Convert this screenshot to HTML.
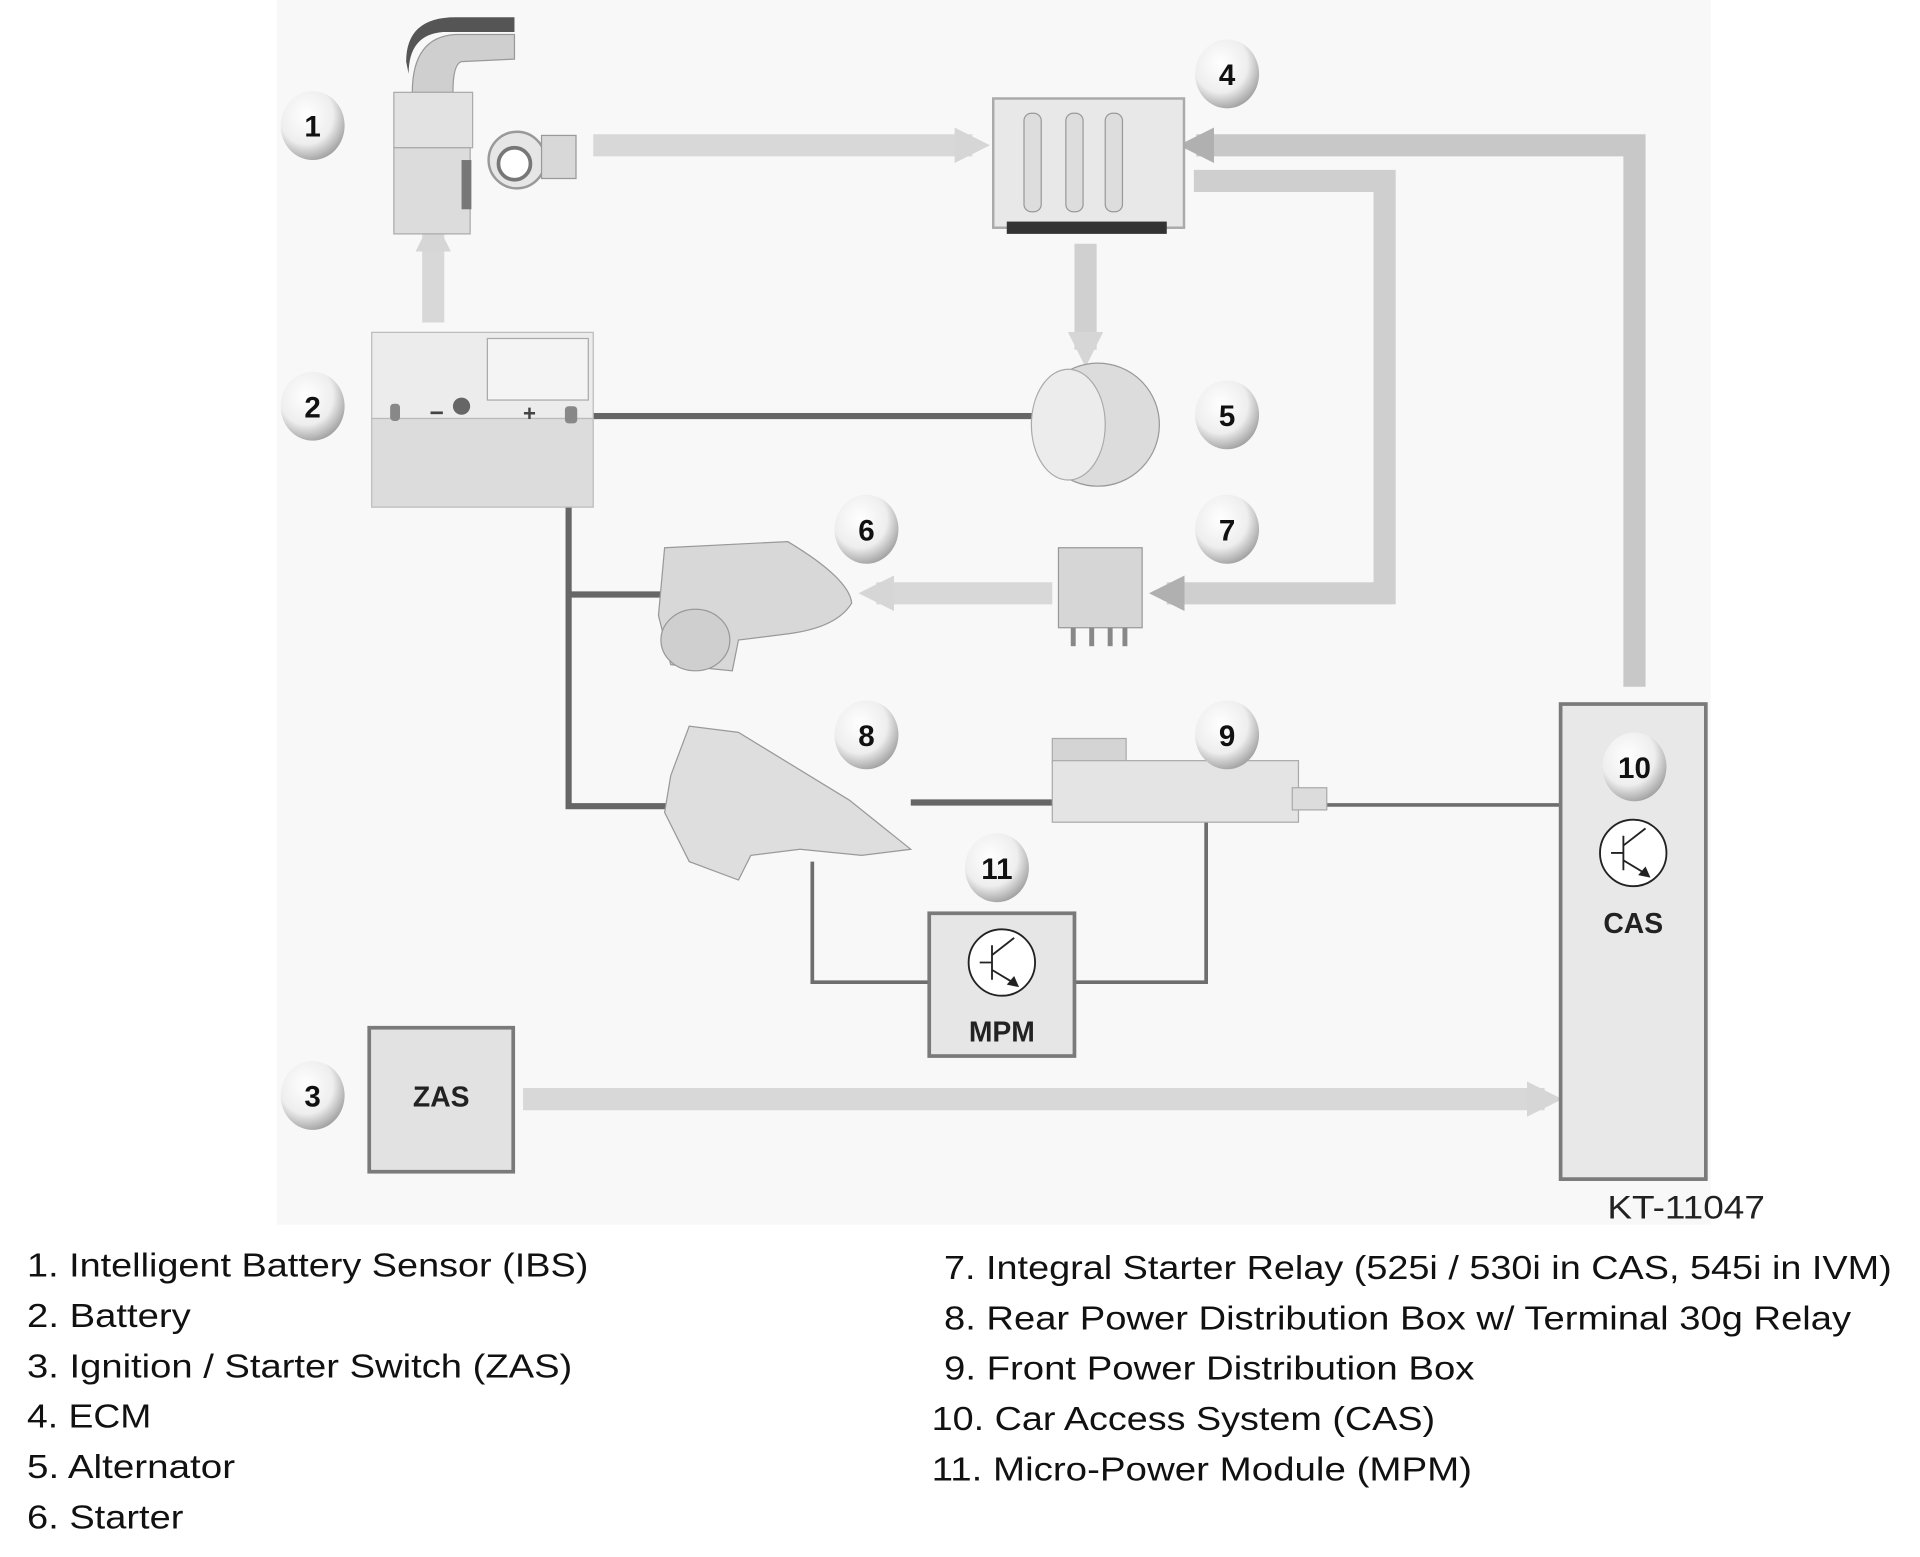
<!DOCTYPE html>
<html><head><meta charset="utf-8"><style>
html,body{margin:0;padding:0;background:#fff;}
svg{display:block;}
text{font-family:"Liberation Sans",sans-serif;}
</style></head><body>
<svg width="1920" height="1557" viewBox="0 0 1560 1265" xmlns="http://www.w3.org/2000/svg">
<defs>
<radialGradient id="bd" cx="0.4" cy="0.35" r="0.7">
<stop offset="0" stop-color="#ffffff"/><stop offset="0.6" stop-color="#eeeeee"/><stop offset="1" stop-color="#9a9a9a"/>
</radialGradient>
<marker id="ah" viewBox="0 0 10 10" refX="5" refY="5" markerWidth="1.6" markerHeight="1.6" orient="auto"><path d="M0,0 L10,5 L0,10 z" fill="#d6d6d6"/></marker>
<marker id="ahd" viewBox="0 0 10 10" refX="5" refY="5" markerWidth="1.6" markerHeight="1.6" orient="auto"><path d="M0,0 L10,5 L0,10 z" fill="#b0b0b0"/></marker>
</defs>
<rect x="225" y="0" width="1165" height="995" fill="#f8f8f8"/>

<g fill="none" stroke-width="18" stroke-linejoin="miter">
<path d="M482,118 L790,118" stroke="#d8d8d8" marker-end="url(#ah)"/>
<path d="M352,262 L352,190" stroke="#d8d8d8" marker-end="url(#ah)"/>
<path d="M882,198 L882,284" stroke="#d0d0d0" marker-end="url(#ah)"/>
<path d="M1328,558 L1328,118 L972,118" stroke="#c8c8c8" marker-end="url(#ahd)"/>
<path d="M970,147 L1125,147 L1125,482 L948,482" stroke="#cfcfcf" marker-end="url(#ahd)"/>
<path d="M855,482 L712,482" stroke="#d8d8d8" marker-end="url(#ah)"/>
<path d="M425,893 L1255,893" stroke="#d8d8d8" marker-end="url(#ah)"/>
</g>

<g fill="none" stroke="#666" stroke-width="5">
<path d="M470,338 L842,338"/>
<path d="M462,342 L462,655 L545,655"/>
<path d="M462,483 L545,483"/>
<path d="M740,652 L862,652"/>
</g>
<g fill="none" stroke="#6e6e6e" stroke-width="3">
<path d="M1075,654 L1268,654"/>
<path d="M660,700 L660,798 L755,798"/>
<path d="M873,798 L980,798 L980,668"/>
</g>

<path d="M332,60 Q332,28 360,26 L418,26 L418,14 L370,14 Q330,14 330,50 Z" fill="#555"/>
<path d="M335,75 Q335,30 370,28 L418,28 L418,48 L375,50 Q368,52 368,75 Z" fill="#cfcfcf" stroke="#999"/>
<rect x="320" y="75" width="64" height="45" fill="#e2e2e2" stroke="#aaa"/>
<rect x="320" y="120" width="62" height="70" fill="#dcdcdc" stroke="#aaa"/>
<rect x="375" y="130" width="8" height="40" fill="#777"/>
<circle cx="420" cy="130" r="23" fill="#e6e6e6" stroke="#999" stroke-width="2"/>
<circle cx="418" cy="133" r="13" fill="#fff" stroke="#777" stroke-width="3"/>
<rect x="440" y="110" width="28" height="35" fill="#d8d8d8" stroke="#999"/>

<rect x="302" y="270" width="180" height="70" fill="#ececec" stroke="#bbb"/>
<rect x="396" y="275" width="82" height="50" fill="#f4f4f4" stroke="#aaa"/>
<rect x="302" y="340" width="180" height="72" fill="#dcdcdc" stroke="#bbb"/>
<circle cx="375" cy="330" r="7" fill="#666"/>
<text x="349" y="342" font-size="20" font-weight="bold" fill="#444">−</text>
<text x="425" y="342" font-size="18" font-weight="bold" fill="#444">+</text>
<rect x="317" y="328" width="8" height="14" rx="3" fill="#888"/>
<rect x="459" y="330" width="10" height="14" rx="3" fill="#888"/>

<rect x="807" y="80" width="155" height="105" fill="#e8e8e8" stroke="#aaa" stroke-width="2"/>
<rect x="832" y="92" width="14" height="80" rx="6" fill="#ddd" stroke="#999"/>
<rect x="866" y="92" width="14" height="80" rx="6" fill="#ddd" stroke="#999"/>
<rect x="898" y="92" width="14" height="80" rx="6" fill="#ddd" stroke="#999"/>
<rect x="818" y="180" width="130" height="10" fill="#333"/>

<ellipse cx="892" cy="345" rx="50" ry="50" fill="#dcdcdc" stroke="#999"/>
<ellipse cx="868" cy="345" rx="30" ry="45" fill="#ececec" stroke="#aaa"/>

<path d="M540,445 L640,440 Q690,470 692,490 Q680,510 640,515 L600,520 L595,545 L545,540 L535,500 Z" fill="#d8d8d8" stroke="#999"/>
<ellipse cx="565" cy="520" rx="28" ry="25" fill="#cfcfcf" stroke="#999"/>

<rect x="860" y="445" width="68" height="65" fill="#d6d6d6" stroke="#999"/>
<rect x="870" y="510" width="4" height="15" fill="#888"/><rect x="885" y="510" width="4" height="15" fill="#888"/><rect x="900" y="510" width="4" height="15" fill="#888"/><rect x="912" y="510" width="4" height="15" fill="#888"/>

<path d="M545,630 L560,590 L600,595 L690,650 L740,690 L700,695 L650,690 L610,695 L600,715 L560,700 L540,660 Z" fill="#dedede" stroke="#999"/>

<rect x="855" y="600" width="60" height="20" fill="#d4d4d4" stroke="#aaa"/>
<rect x="855" y="618" width="200" height="50" fill="#e4e4e4" stroke="#aaa"/>
<rect x="1050" y="640" width="28" height="18" fill="#dcdcdc" stroke="#aaa"/>

<rect x="300" y="835" width="117" height="117" fill="#e2e2e2" stroke="#7a7a7a" stroke-width="3"/>
<text x="358.5" y="899" font-size="23" font-weight="bold" text-anchor="middle" fill="#222">ZAS</text>

<rect x="755" y="742" width="118" height="116" fill="#e6e6e6" stroke="#7a7a7a" stroke-width="3"/>
<circle cx="814" cy="782" r="27" fill="#fff" stroke="#222" stroke-width="1.5"/>
<path d="M796,782 L806,782 M806,768 L806,796 M806,776 L824,762 M806,788 L826,800" stroke="#222" stroke-width="1.5" fill="none"/>
<path d="M828,802 L818,800 L824,793 Z" fill="#222"/>
<text x="814" y="846" font-size="23" font-weight="bold" text-anchor="middle" fill="#222">MPM</text>

<rect x="1268" y="572" width="118" height="386" fill="#e8e8e8" stroke="#7a7a7a" stroke-width="3"/>
<circle cx="1327" cy="693" r="27" fill="#fff" stroke="#222" stroke-width="1.5"/>
<path d="M1309,693 L1319,693 M1319,679 L1319,707 M1319,687 L1337,673 M1319,699 L1339,711" stroke="#222" stroke-width="1.5" fill="none"/>
<path d="M1341,713 L1331,711 L1337,704 Z" fill="#222"/>
<text x="1327" y="758" font-size="23" font-weight="bold" text-anchor="middle" fill="#222">CAS</text>

<g font-size="24" font-weight="bold" text-anchor="middle" fill="#111">
<g><ellipse cx="254" cy="102" rx="26" ry="28" fill="url(#bd)"/><text x="254" y="111">1</text></g>
<g><ellipse cx="254" cy="330" rx="26" ry="28" fill="url(#bd)"/><text x="254" y="339">2</text></g>
<g><ellipse cx="254" cy="890" rx="26" ry="28" fill="url(#bd)"/><text x="254" y="899">3</text></g>
<g><ellipse cx="997" cy="60" rx="26" ry="28" fill="url(#bd)"/><text x="997" y="69">4</text></g>
<g><ellipse cx="997" cy="337" rx="26" ry="28" fill="url(#bd)"/><text x="997" y="346">5</text></g>
<g><ellipse cx="704" cy="430" rx="26" ry="28" fill="url(#bd)"/><text x="704" y="439">6</text></g>
<g><ellipse cx="997" cy="430" rx="26" ry="28" fill="url(#bd)"/><text x="997" y="439">7</text></g>
<g><ellipse cx="704" cy="597" rx="26" ry="28" fill="url(#bd)"/><text x="704" y="606">8</text></g>
<g><ellipse cx="997" cy="597" rx="26" ry="28" fill="url(#bd)"/><text x="997" y="606">9</text></g>
<g><ellipse cx="1328" cy="623" rx="26" ry="28" fill="url(#bd)"/><text x="1328" y="632">10</text></g>
<g><ellipse cx="810" cy="705" rx="26" ry="28" fill="url(#bd)"/><text x="810" y="714">11</text></g>
</g>

<text x="1370" y="990" font-size="26" text-anchor="middle" fill="#222" textLength="128" lengthAdjust="spacingAndGlyphs">KT-11047</text>

<g font-size="27" fill="#111" lengthAdjust="spacingAndGlyphs">
<text x="22" y="1037" textLength="456" lengthAdjust="spacingAndGlyphs">1. Intelligent Battery Sensor (IBS)</text>
<text x="22" y="1078" textLength="133" lengthAdjust="spacingAndGlyphs">2. Battery</text>
<text x="22" y="1119" textLength="443" lengthAdjust="spacingAndGlyphs">3. Ignition / Starter Switch (ZAS)</text>
<text x="22" y="1160" textLength="101" lengthAdjust="spacingAndGlyphs">4. ECM</text>
<text x="22" y="1201" textLength="169" lengthAdjust="spacingAndGlyphs">5. Alternator</text>
<text x="22" y="1242" textLength="127" lengthAdjust="spacingAndGlyphs">6. Starter</text>
<text x="767" y="1039" textLength="770" lengthAdjust="spacingAndGlyphs">7. Integral Starter Relay (525i / 530i in CAS, 545i in IVM)</text>
<text x="767" y="1080" textLength="737" lengthAdjust="spacingAndGlyphs">8. Rear Power Distribution Box w/ Terminal 30g Relay</text>
<text x="767" y="1121" textLength="431" lengthAdjust="spacingAndGlyphs">9. Front Power Distribution Box</text>
<text x="757" y="1162" textLength="409" lengthAdjust="spacingAndGlyphs">10. Car Access System (CAS)</text>
<text x="757" y="1203" textLength="439" lengthAdjust="spacingAndGlyphs">11. Micro-Power Module (MPM)</text>
</g>
</svg>
</body></html>
